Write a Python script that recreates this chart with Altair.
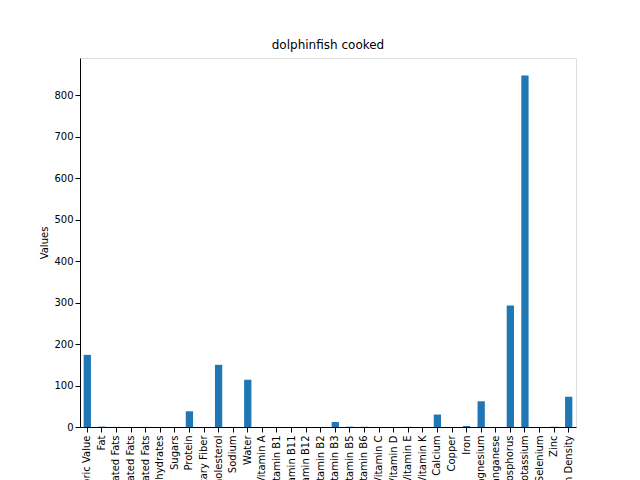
import altair as alt
import pandas as pd

categories = ["Caloric Value","Fat","Saturated Fats","Monounsaturated Fats","Polyunsaturated Fats",
 "Carbohydrates","Sugars","Protein","Dietary Fiber","Cholesterol","Sodium","Water",
 "Vitamin A","Vitamin B1","Vitamin B11","Vitamin B12","Vitamin B2","Vitamin B3","Vitamin B5",
 "Vitamin B6","Vitamin C","Vitamin D","Vitamin E","Vitamin K","Calcium","Copper","Iron",
 "Magnesium","Manganese","Phosphorus","Potassium","Selenium","Zinc","Nutrition Density"]
values = [174,0.9,0.2,0.1,0.2,0,0,37.9,0,150,0.2,114,
 0.02,0.04,0.01,0.001,0.1,12.3,0.8,0.5,0,0.005,0.3,0.001,30,0.05,2.4,
 62,0.02,293,848,0.05,0.6,73]

df = pd.DataFrame({"cat": categories, "val": values})

chart = alt.Chart(df).mark_bar(color="#1f77b4").encode(
    x=alt.X("cat:N", sort=None, title=None,
            scale=alt.Scale(paddingInner=0.5, paddingOuter=0.25),
            axis=alt.Axis(labelAngle=-90, labelFontSize=10, labelColor="black",
                          tickColor="black", domainColor="black", labelPadding=3,
                          labelOverlap=False, labelLimit=0)),
    y=alt.Y("val:Q", title="Values",
            scale=alt.Scale(domain=[0, 890], nice=False),
            axis=alt.Axis(values=list(range(0, 900, 100)), grid=False, labelFontSize=10,
                          titleFontSize=10, titleFontWeight="normal", labelColor="black",
                          titleColor="black", tickColor="black", domainColor="black")),
).properties(
    width=496, height=369,
    title=alt.TitleParams("dolphinfish cooked", fontSize=12, fontWeight="normal", offset=6),
    padding={"left": 72, "top": 50, "right": 56, "bottom": 60},
    autosize=alt.AutoSizeParams(type="none"),
).configure_view(stroke="black", strokeWidth=1).configure(font="DejaVu Sans")

chart.save("out.html", embed_options={"renderer": "svg", "actions": False})
